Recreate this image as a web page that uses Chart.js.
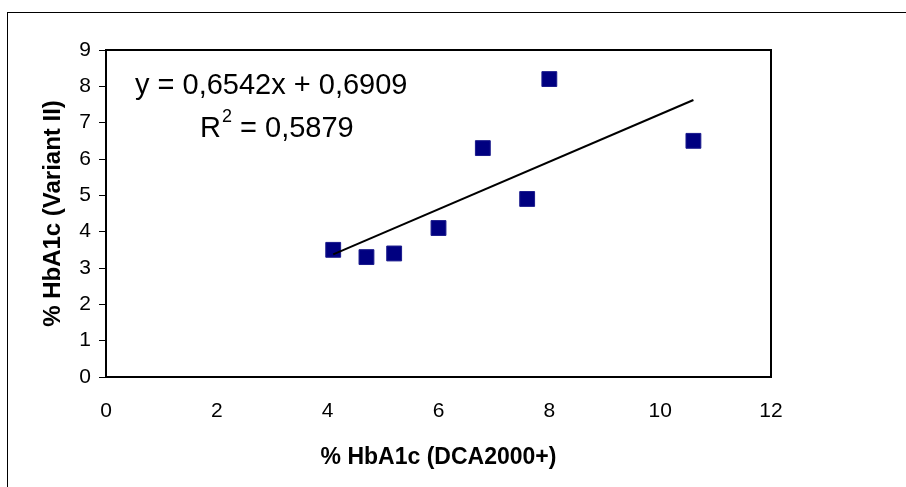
<!DOCTYPE html>
<html>
<head>
<meta charset="utf-8">
<script src="https://cdn.jsdelivr.net/npm/chart.js@4.4.0/dist/chart.umd.min.js"></script>
<style>
  html, body { margin: 0; padding: 0; background: #fff; }
  #wrap { width: 906px; height: 487px; position: relative; }
</style>
</head>
<body>
<div id="wrap"><canvas id="c" width="906" height="487"></canvas></div>
<script>
// Data
const dcaValues     = [4.1, 4.7, 5.2, 6.0, 6.8, 7.6, 8.0, 10.6];   // % HbA1c (DCA2000+)
const variantValues = [3.5, 3.3, 3.4, 4.1, 6.3, 4.9, 8.2, 6.5];    // % HbA1c (Variant II)
const trendX = [4.1, 10.6];
const trendY = [3.373, 7.625];
const xTicks = [0, 2, 4, 6, 8, 10, 12];
const yTicks = [0, 1, 2, 3, 4, 5, 6, 7, 8, 9];
const equationText = 'y = 0,6542x + 0,6909';
const r2Label = 'R';
const r2Sup = '2';
const r2Value = ' = 0,5879';
const xTitle = '% HbA1c (DCA2000+)';
const yTitle = '% HbA1c (Variant II)';

const FONT = "'Liberation Sans', Arial, Helvetica, sans-serif";

const points = dcaValues.map((x, i) => ({ x: x, y: variantValues[i] }));
const trend = trendX.map((x, i) => ({ x: x, y: trendY[i] }));

const decorPlugin = {
  id: 'decor',
  beforeDraw(chart) {
    const ctx = chart.ctx;
    ctx.save();
    ctx.fillStyle = '#fff';
    ctx.fillRect(0, 0, chart.width, chart.height);
    ctx.strokeStyle = '#000';
    ctx.lineWidth = 1;
    ctx.strokeRect(7.5, 12.5, 1200, 1200);
    ctx.restore();
  },
  afterDatasetsDraw(chart) {
    const ctx = chart.ctx;
    const a = chart.chartArea;
    ctx.save();
    ctx.strokeStyle = '#000';
    ctx.lineWidth = 2;
    ctx.strokeRect(a.left, a.top, a.right - a.left, a.bottom - a.top);
    ctx.fillStyle = '#000';
    ctx.textBaseline = 'alphabetic';
    ctx.textAlign = 'left';
    ctx.font = '29px ' + FONT;
    ctx.fillText(equationText, a.left + 29, a.top + 44);
    const rx = a.left + 94, ry = a.top + 87;
    ctx.fillText(r2Label, rx, ry);
    const rw = ctx.measureText(r2Label).width;
    ctx.font = '18px ' + FONT;
    ctx.fillText(r2Sup, rx + rw + 1, ry - 15);
    const sw = ctx.measureText(r2Sup).width;
    ctx.font = '29px ' + FONT;
    ctx.fillText(r2Value, rx + rw + sw + 1, ry);
    ctx.restore();
  }
};

new Chart(document.getElementById('c'), {
  type: 'scatter',
  data: {
    datasets: [
      {
        type: 'scatter',
        data: points,
        pointStyle: 'rect',
        pointRadius: 10.5,
        pointHoverRadius: 10.5,
        backgroundColor: '#000080',
        borderColor: '#1a1a8c',
        borderWidth: 1,
        order: 2
      },
      {
        type: 'line',
        data: trend,
        borderColor: '#000',
        borderWidth: 2,
        pointRadius: 0,
        fill: false,
        tension: 0,
        order: 1
      }
    ]
  },
  options: {
    responsive: false,
    animation: false,
    events: [],
    layout: { padding: { left: 18, top: 50, right: 135, bottom: 10 } },
    plugins: {
      legend: { display: false },
      tooltip: { enabled: false }
    },
    scales: {
      x: {
        type: 'linear',
        min: 0, max: 12,
        afterBuildTicks(scale) { scale.ticks = xTicks.map(v => ({ value: v })); },
        afterFit(scale) { scale.height = 100; },
        grid: { display: true, drawOnChartArea: false, drawTicks: false, color: '#000' },
        border: { display: true, color: '#000', width: 2 },
        ticks: {
          color: '#000',
          padding: 22,
          font: { family: FONT, size: 21 }
        },
        title: {
          display: true,
          text: xTitle,
          color: '#000',
          padding: { top: 0, bottom: 6 },
          font: { family: FONT, size: 23, weight: 'bold' }
        }
      },
      y: {
        type: 'linear',
        min: 0, max: 9,
        afterBuildTicks(scale) { scale.ticks = yTicks.map(v => ({ value: v })); },
        afterFit(scale) { scale.width = 88; },
        grid: { display: true, drawOnChartArea: false, drawTicks: true, tickLength: 7, color: '#000', tickColor: '#000' },
        border: { display: true, color: '#000', width: 2 },
        ticks: {
          color: '#000',
          padding: 8,
          font: { family: FONT, size: 21 }
        },
        title: {
          display: true,
          text: yTitle,
          color: '#000',
          padding: { top: 21, bottom: 0 },
          font: { family: FONT, size: 24, weight: 'bold' }
        }
      }
    }
  },
  plugins: [decorPlugin]
});
</script>
</body>
</html>
